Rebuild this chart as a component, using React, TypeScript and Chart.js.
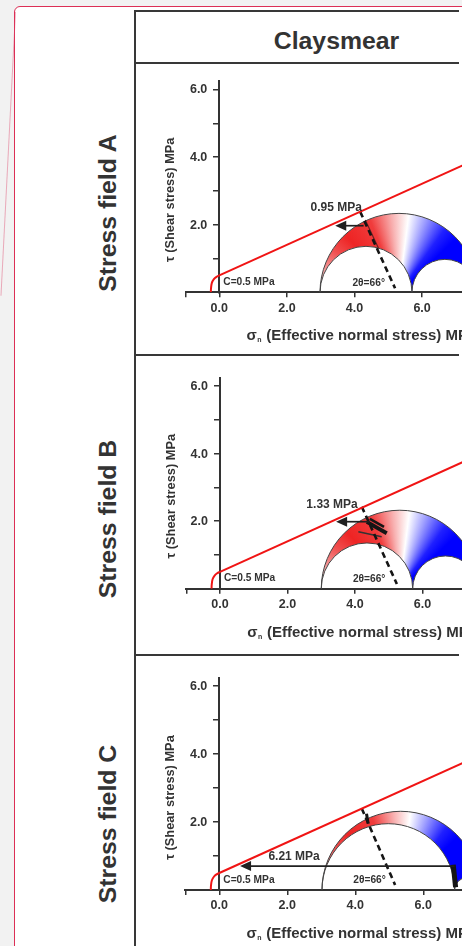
import React, { useEffect, useRef } from 'react';
import { Chart, registerables } from 'chart.js';

Chart.register(...registerables);

const FONT = '"Liberation Sans", Arial, Helvetica, sans-serif';
const INK = '#333333';

// ---------------- data ----------------
const columnTitle = 'Claysmear';
const rowTitles = ['Stress field A', 'Stress field B', 'Stress field C'];
const xTitleSymbol = 'σ';
const xTitleSub = 'n';
const xTitleRest = ' (Effective normal stress) MPa';
const yTitle = 'τ (Shear stress) MPa';

const xTickValues = [-1, 0, 2, 4, 6, 8, 10];
const xTickLabels = ['', '0.0', '2.0', '4.0', '6.0', '8.0', '10.0'];
const yTickValues = [1, 2, 3, 4, 5, 6];
const yTickLabels = ['', '2.0', '', '4.0', '', '6.0'];
const xMin = -1;
const xMax = 10;
const yMin = 0;
const yMax = 6.25;

// failure envelope (tension cut-off curve + Coulomb line, C = 0.5 MPa)
const envelopeCurveX = [-0.25, -0.245, -0.22, -0.16, -0.08, 0];
const envelopeCurveY = [0, 0.12, 0.28, 0.39, 0.46, 0.5];
const envelopeLineX = [0, 10];
const envelopeLineY = [0.5, 5.02];
const cohesionLabel = 'C=0.5 MPa';
const angleLabel = '2θ=66°';

// principal stresses [σ3, σ2, σ1]
const principalA = [2.98, 5.7, 7.65];
const principalB = [3.0, 5.71, 7.65];
const principalC = [3.02, 6.92, 7.65];

// 2θ = 66° line (start, end) [σn, τ]
const twoThetaA = [[4.17, 2.38], [5.2, 0.12]];
const twoThetaB = [[4.2, 2.43], [5.24, 0.14]];
const twoThetaC = [[4.19, 2.4], [5.17, 0.15]];

// stress-distance arrows (from, to) [σn, τ]
const arrowA = [[4.27, 1.97], [3.43, 1.97]];
const arrowB = [[4.44, 1.985], [3.44, 1.985]];
const arrowC = [[6.92, 0.705], [0.61, 0.705]];
const arrowLabels = ['0.95 MPa', '1.33 MPa', '6.21 MPa'];
const arrowLabelAt = [[3.46, 2.5], [3.32, 2.48], [2.2, 0.98]];

// fault plane marks [σn, τ]
const marksA = [[[4.32, 2.14], [4.71, 1.3]]];
const marksB = [
  [[4.35, 1.98], [4.94, 1.64]],
  [[4.44, 2.07], [4.86, 1.83]],
  [[4.1, 1.69], [4.79, 1.54]],
];
const marksC = [
  [[4.33, 2.24], [4.38, 1.95]],
  [[6.88, 0.74], [6.95, 0.08]],
];

// ---------------- layout ----------------
const CANVAS_LEFT = 136;
const CANVAS_W = 600;

const panels = [
  { top: 64, height: 289, x0: 219.3, y0: 292.3, k: 33.8, sig: principalA, dash: twoThetaA, arrow: arrowA, label: arrowLabels[0], labelAt: arrowLabelAt[0], marks: marksA, markW: [1.2], markC: ['#6a2020'] },
  { top: 357, height: 296, x0: 220, y0: 588.7, k: 33.75, sig: principalB, dash: twoThetaB, arrow: arrowB, label: arrowLabels[1], labelAt: arrowLabelAt[1], marks: marksB, markW: [4, 2.5, 1.5], markC: ['#151515', '#151515', '#333'] },
  { top: 657, height: 289, x0: 219.3, y0: 890, k: 34, sig: principalC, dash: twoThetaC, arrow: arrowC, label: arrowLabels[2], labelAt: arrowLabelAt[2], marks: marksC, markW: [3, 5], markC: ['#151515', '#151515'] },
];

const rowLabelCenters = [213, 519, 824];

function pts(xs: number[], ys: number[]) {
  return xs.map((x, i) => ({ x, y: ys[i] }));
}
function pairPts(p: number[][]) {
  return p.map(([x, y]) => ({ x, y }));
}

function makePlugin(cfg: any) {
  return {
    id: 'mohr',
    beforeDatasetsDraw(chart: any) {
      const { ctx } = chart;
      const xs = chart.scales.x;
      const ys = chart.scales.y;
      const px = (v: number) => xs.getPixelForValue(v);
      const py = (v: number) => ys.getPixelForValue(v);
      const kx = px(1) - px(0);
      const ky = py(0) - py(1);
      const [s3, s2, s1] = cfg.sig;
      const c1 = (s1 + s3) / 2, r1 = (s1 - s3) / 2;
      const c2 = (s2 + s3) / 2, r2 = (s2 - s3) / 2;
      const c3 = (s1 + s2) / 2, r3 = (s1 - s2) / 2;
      const Y0 = py(0);
      ctx.save();
      ctx.beginPath();
      ctx.ellipse(px(c1), Y0, r1 * kx, r1 * ky, 0, Math.PI, 2 * Math.PI, false);
      ctx.ellipse(px(c3), Y0, r3 * kx, r3 * ky, 0, 0, Math.PI, true);
      ctx.ellipse(px(c2), Y0, r2 * kx, r2 * ky, 0, 0, Math.PI, true);
      ctx.closePath();
      let fill: any = '#f08080';
      if (ctx.createConicGradient) {
        const g = ctx.createConicGradient(Math.PI, px(c1), Y0);
        g.addColorStop(0, '#fbe0e0');
        g.addColorStop(0.04, '#f6a8a8');
        g.addColorStop(0.09, '#f05050');
        g.addColorStop(0.13, '#ee2424');
        g.addColorStop(0.19, '#f03c3c');
        g.addColorStop(0.235, '#f8b0b0');
        g.addColorStop(0.27, '#ffffff');
        g.addColorStop(0.305, '#a0a0ff');
        g.addColorStop(0.35, '#2020ff');
        g.addColorStop(0.38, '#0000ff');
        g.addColorStop(1, '#0000ff');
        fill = g;
      }
      ctx.fillStyle = fill;
      ctx.fill();
      ctx.strokeStyle = '#444444';
      ctx.lineWidth = 1;
      [[c1, r1], [c2, r2], [c3, r3]].forEach(([c, r]) => {
        ctx.beginPath();
        ctx.ellipse(px(c), Y0, r * kx, r * ky, 0, Math.PI, 2 * Math.PI, false);
        ctx.stroke();
      });
      ctx.restore();
    },
    afterDatasetsDraw(chart: any) {
      const { ctx } = chart;
      const xs = chart.scales.x;
      const ys = chart.scales.y;
      const px = (v: number) => xs.getPixelForValue(v);
      const py = (v: number) => ys.getPixelForValue(v);
      ctx.save();
      // y tick labels (right-aligned left of the axis at σn = 0)
      ctx.fillStyle = INK;
      ctx.font = `bold 12.5px ${FONT}`;
      ctx.textAlign = 'right';
      ctx.textBaseline = 'middle';
      yTickValues.forEach((v, i) => {
        if (yTickLabels[i]) ctx.fillText(yTickLabels[i], px(0) - 12, py(v) + 0.5);
      });
      // arrow
      const [[fx, fy], [tx, ty]] = cfg.arrow;
      const X1 = px(fx), Y1 = py(fy), X2 = px(tx), Y2 = py(ty);
      const dir = X2 < X1 ? 1 : -1;
      ctx.strokeStyle = '#202020';
      ctx.fillStyle = '#202020';
      ctx.lineWidth = 1.7;
      ctx.beginPath();
      ctx.moveTo(X1, Y1);
      ctx.lineTo(X2 + dir * 8, Y2);
      ctx.stroke();
      ctx.beginPath();
      ctx.moveTo(X2, Y2);
      ctx.lineTo(X2 + dir * 11, Y2 - 5);
      ctx.lineTo(X2 + dir * 11, Y2 + 5);
      ctx.closePath();
      ctx.fill();
      // texts
      ctx.fillStyle = INK;
      ctx.textBaseline = 'middle';
      ctx.font = `bold 12px ${FONT}`;
      ctx.textAlign = 'center';
      ctx.fillText(cfg.label, px(cfg.labelAt[0]), py(cfg.labelAt[1]));
      ctx.font = `bold 10.2px ${FONT}`;
      ctx.textAlign = 'left';
      ctx.fillText(cohesionLabel, px(0) + 4, py(0.3));
      ctx.textAlign = 'center';
      ctx.fillText(angleLabel, px(4.42), py(0.28));
      // y title
      ctx.save();
      ctx.translate(px(0) - 49, py(0) - 92.5);
      ctx.rotate(-Math.PI / 2);
      ctx.font = `bold 12.8px ${FONT}`;
      ctx.textAlign = 'center';
      ctx.textBaseline = 'middle';
      ctx.fillText(yTitle, 0, 0);
      ctx.restore();
      // x title
      ctx.textAlign = 'left';
      ctx.textBaseline = 'alphabetic';
      let x = px(0) + 27.2;
      const base = py(0) + 48;
      ctx.font = `bold 15px ${FONT}`;
      ctx.fillText(xTitleSymbol, x, base);
      x += ctx.measureText(xTitleSymbol).width;
      ctx.font = `bold 7px ${FONT}`;
      ctx.fillText(xTitleSub, x + 0.5, base + 2);
      x += ctx.measureText(xTitleSub).width + 1;
      ctx.font = `bold 15px ${FONT}`;
      ctx.fillText(xTitleRest, x, base);
      ctx.restore();
    },
  };
}

function Panel({ cfg }: { cfg: any }) {
  const ref = useRef<HTMLCanvasElement>(null);
  useEffect(() => {
    const canvas = ref.current!;
    const padLeft = cfg.x0 - cfg.k - CANVAS_LEFT;
    const padTop = cfg.y0 - yMax * cfg.k - cfg.top;
    const padRight = CANVAS_LEFT + CANVAS_W - (cfg.x0 + xMax * cfg.k);
    const xAxisH = cfg.top + cfg.height - cfg.y0;
    const datasets: any[] = [
      {
        data: pts(envelopeCurveX, envelopeCurveY),
        showLine: true,
        borderColor: '#f01414',
        borderWidth: 2,
        pointRadius: 0,
        tension: 0.4,
      },
      {
        data: pts(envelopeLineX, envelopeLineY),
        showLine: true,
        borderColor: '#f01414',
        borderWidth: 2,
        pointRadius: 0,
      },
      {
        data: pairPts(cfg.dash),
        showLine: true,
        borderColor: '#151515',
        borderWidth: 2.6,
        borderDash: [6, 4],
        pointRadius: 0,
      },
      ...cfg.marks.map((m: number[][], i: number) => ({
        data: pairPts(m),
        showLine: true,
        borderColor: cfg.markC[i],
        borderWidth: cfg.markW[i],
        pointRadius: 0,
      })),
    ];
    const chart = new Chart(canvas, {
      type: 'scatter',
      data: { datasets },
      options: {
        animation: false,
        responsive: false,
        maintainAspectRatio: false,
        events: [],
        layout: { padding: { left: padLeft, top: padTop, right: padRight, bottom: 0 } },
        plugins: { legend: { display: false }, tooltip: { enabled: false } },
        scales: {
          x: {
            type: 'linear',
            position: 'bottom',
            min: xMin,
            max: xMax,
            afterBuildTicks: (s: any) => {
              s.ticks = xTickValues.map((v) => ({ value: v }));
            },
            afterFit: (s: any) => {
              s.height = xAxisH;
            },
            ticks: {
              autoSkip: false,
              maxRotation: 0,
              padding: 3.5,
              color: INK,
              font: { family: FONT, size: 12.5, weight: 'bold' },
              callback: (v: any) => {
                const i = xTickValues.indexOf(Number(v));
                return i >= 0 ? xTickLabels[i] : '';
              },
            },
            grid: { display: true, drawOnChartArea: false, drawTicks: true, tickLength: 5, color: INK, lineWidth: 1.5 },
            border: { display: true, color: INK, width: 2 },
          },
          y: {
            type: 'linear',
            position: { x: 0 } as any,
            min: yMin,
            max: yMax,
            afterBuildTicks: (s: any) => {
              s.ticks = yTickValues.map((v) => ({ value: v }));
            },
            ticks: {
              display: false,
              autoSkip: false,
              padding: 7,
              color: INK,
              font: { family: FONT, size: 11, weight: 'bold' },
            },
            grid: { display: true, drawOnChartArea: false, drawTicks: true, tickLength: 5, color: INK, lineWidth: 1.5 },
            border: { display: true, color: INK, width: 2 },
          },
        },
      } as any,
      plugins: [makePlugin(cfg)],
    });
    return () => chart.destroy();
  }, []);
  return (
    <canvas
      ref={ref}
      width={CANVAS_W}
      height={cfg.height}
      style={{ position: 'absolute', left: CANVAS_LEFT, top: cfg.top, width: CANVAS_W, height: cfg.height }}
    />
  );
}

const lineStyle = (l: number, t: number, w: number, h: number): React.CSSProperties => ({
  position: 'absolute',
  left: l,
  top: t,
  width: w,
  height: h,
  background: '#383838',
});

export default function App() {
  return (
    <div
      style={{
        position: 'fixed',
        left: 0,
        top: 0,
        width: 462,
        height: 946,
        overflow: 'hidden',
        background: '#f2f2f2',
        fontFamily: FONT,
      }}
    >
      <div
        style={{
          position: 'absolute',
          left: 14,
          top: 6,
          width: 700,
          height: 1100,
          background: '#ffffff',
          border: '1px solid #dc2f55',
          borderTopLeftRadius: 6,
          boxSizing: 'border-box',
        }}
      />
      {panels.map((p, i) => (
        <Panel key={i} cfg={p} />
      ))}
      <div style={lineStyle(134, 10, 2, 1000)} />
      <div style={lineStyle(134, 10, 325, 2)} />
      <div style={lineStyle(134, 62, 325, 2)} />
      <div style={lineStyle(134, 354, 325, 2)} />
      <div style={lineStyle(134, 654, 325, 2)} />
      <div
        style={{
          position: 'absolute',
          left: 136.5,
          width: 400,
          top: 29,
          textAlign: 'center',
          font: `bold 24.8px ${FONT}`,
          lineHeight: '24.8px',
          color: INK,
          whiteSpace: 'nowrap',
        }}
      >
        {columnTitle}
      </div>
      {rowTitles.map((t, i) => (
        <div
          key={t}
          style={{
            position: 'absolute',
            left: 108,
            top: rowLabelCenters[i],
            transform: 'translate(-50%, -50%) rotate(-90deg)',
            font: `bold 24.8px ${FONT}`,
            lineHeight: '24.8px',
            color: INK,
            whiteSpace: 'nowrap',
          }}
        >
          {t}
        </div>
      ))}
      <div
        style={{
          position: 'absolute',
          left: 14.5,
          top: 12,
          width: 1,
          height: 284,
          background: 'rgba(220,60,100,0.4)',
          transformOrigin: '0 0',
          transform: 'rotate(2.93deg)',
        }}
      />
    </div>
  );
}
